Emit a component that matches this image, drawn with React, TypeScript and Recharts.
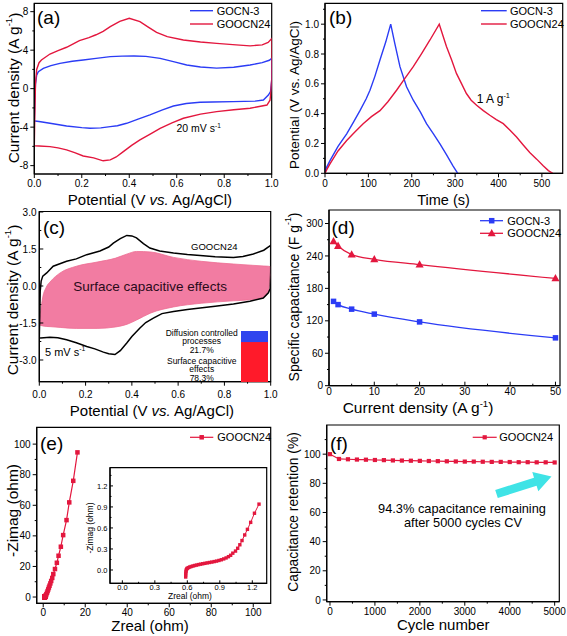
import React from 'react';
import { ComposedChart, Line, Area, XAxis, YAxis, ReferenceArea, BarChart, Bar } from 'recharts';

const W = 567;
const H = 636;
const FONT = '"Liberation Sans", Arial, Helvetica, sans-serif';
const BLUE = '#2b3cf5';
const RED = '#e3173e';
const PINK = '#f27ca2';
const CYAN = '#3fe3e6';

// ---------- (a) CV at 20 mV/s ----------
const aGocnV = [0.0, 0.002, 0.005, 0.01, 0.017, 0.038, 0.07, 0.108, 0.16, 0.206, 0.26, 0.32, 0.37, 0.42, 0.47, 0.53, 0.59, 0.642, 0.7, 0.768, 0.84, 0.909, 0.96, 0.99, 1.0, 1.0, 0.995, 0.986, 0.965, 0.93, 0.838, 0.75, 0.698, 0.64, 0.586, 0.54, 0.487, 0.44, 0.389, 0.35, 0.32, 0.28, 0.235, 0.2, 0.136, 0.066, 0.02, 0.003, 0.0];
const aGocnJ = [-3.35, -1.5, 0.5, 1.4, 1.77, 2.11, 2.4, 2.63, 2.85, 2.98, 3.15, 3.33, 3.38, 3.4, 3.35, 3.15, 2.78, 2.46, 2.25, 2.13, 2.22, 2.46, 2.7, 2.95, 3.15, 0.8, -0.3, -0.66, -1.18, -1.3, -1.35, -1.38, -1.42, -1.55, -1.8, -2.2, -2.73, -3.15, -3.6, -3.85, -3.95, -4.08, -4.12, -4.05, -3.88, -3.6, -3.42, -3.36, -3.35];
const aGoocnV = [0.0, 0.002, 0.005, 0.01, 0.02, 0.03, 0.066, 0.1, 0.136, 0.19, 0.23, 0.26, 0.29, 0.32, 0.36, 0.4, 0.445, 0.48, 0.515, 0.56, 0.628, 0.7, 0.768, 0.85, 0.909, 0.96, 0.985, 1.0, 1.0, 0.996, 0.993, 0.98, 0.909, 0.84, 0.768, 0.7, 0.628, 0.58, 0.53, 0.49, 0.445, 0.41, 0.375, 0.345, 0.32, 0.29, 0.25, 0.206, 0.17, 0.136, 0.1, 0.066, 0.02, 0.003, 0.0];
const aGoocnJ = [-5.95, -3.0, 0.5, 2.0, 2.7, 2.98, 3.6, 3.95, 4.3, 5.0, 5.3, 5.6, 5.95, 6.44, 7.0, 7.31, 6.96, 6.4, 5.85, 5.4, 5.06, 4.85, 4.71, 4.55, 4.45, 4.55, 4.8, 5.2, 1.0, -0.5, -1.2, -1.7, -2.04, -2.2, -2.39, -2.65, -3.08, -3.55, -4.12, -4.7, -5.33, -5.9, -6.54, -7.1, -7.4, -7.5, -7.2, -7.0, -6.65, -6.37, -6.15, -6.02, -5.96, -5.95, -5.95];

// ---------- (b) GCD at 1 A/g ----------
const bGocnT = [0, 2, 11.5, 30, 50, 65, 80.6, 95, 103.7, 115, 126.7, 140, 151.5, 161, 172.8, 188, 203.5, 220, 234, 250, 265, 280, 295, 306];
const bGocnU = [0, 0.03, 0.085, 0.18, 0.265, 0.34, 0.42, 0.5, 0.557, 0.65, 0.76, 0.88, 1.0, 0.87, 0.715, 0.58, 0.49, 0.41, 0.333, 0.265, 0.198, 0.125, 0.05, 0.0];
const bGoocnT = [0, 5, 11.5, 30, 50, 70, 88, 107, 126.7, 145, 165, 185, 203.5, 222, 242, 263.4, 280, 292, 303, 315, 326, 337, 349.5, 365, 380, 395, 411, 426, 441.6, 457, 472, 488, 503, 515, 525];
const bGoocnU = [0, 0.03, 0.063, 0.15, 0.22, 0.28, 0.333, 0.38, 0.42, 0.48, 0.557, 0.64, 0.715, 0.8, 0.894, 1.0, 0.85, 0.76, 0.67, 0.6, 0.535, 0.49, 0.456, 0.42, 0.389, 0.36, 0.333, 0.29, 0.243, 0.19, 0.14, 0.095, 0.05, 0.018, 0.0];

// ---------- (c) CV at 5 mV/s with capacitive contribution ----------
const cV = [0.0, 0.002, 0.004, 0.008, 0.015, 0.032, 0.06, 0.118, 0.16, 0.205, 0.262, 0.3, 0.32, 0.35, 0.378, 0.4, 0.42, 0.45, 0.478, 0.52, 0.58, 0.64, 0.695, 0.76, 0.839, 0.88, 0.925, 0.97, 1.0, 1.0, 0.998, 0.99, 0.968, 0.91, 0.839, 0.76, 0.695, 0.64, 0.58, 0.53, 0.493, 0.46, 0.435, 0.4, 0.378, 0.35, 0.327, 0.3, 0.277, 0.24, 0.205, 0.16, 0.118, 0.08, 0.046, 0.006, 0.0];
const cJ = [-2.1, -1.2, -0.2, 0.2, 0.4, 0.53, 0.8, 1.0, 1.1, 1.27, 1.42, 1.58, 1.74, 1.92, 2.05, 2.03, 1.95, 1.72, 1.54, 1.42, 1.34, 1.28, 1.24, 1.19, 1.16, 1.2, 1.3, 1.45, 1.65, 0.6, -0.1, -0.28, -0.49, -0.62, -0.73, -0.82, -0.89, -0.95, -1.03, -1.12, -1.3, -1.48, -1.7, -2.05, -2.31, -2.62, -2.78, -2.75, -2.68, -2.55, -2.45, -2.3, -2.18, -2.1, -2.08, -2.11, -2.1];
const cPinkV = [0.0, 0.006, 0.015, 0.03, 0.05, 0.09, 0.16, 0.25, 0.33, 0.38, 0.42, 0.48, 0.58, 0.7, 0.84, 0.92, 0.97, 0.99, 1.0];
const cPinkLow = [-1.57, -1.6, -1.62, -1.64, -1.65, -1.68, -1.72, -1.72, -1.66, -1.55, -1.38, -1.1, -0.85, -0.7, -0.6, -0.55, -0.45, -0.2, 0.5];
const cPinkHigh = [-1.45, -1.0, -0.45, -0.05, 0.2, 0.53, 0.8, 0.97, 1.13, 1.3, 1.4, 1.38, 1.16, 1.0, 0.89, 0.84, 0.81, 0.8, 0.78];
const cShareNames = ['Surface capacitive effects', 'Diffusion controlled processes'];
const cShares = [78.3, 21.7];

// ---------- (d) rate capability ----------
const dCurrent = [1, 2, 5, 10, 20, 50];
const dGocn = [156, 150, 141.6, 132.4, 118, 88.5];
const dGoocn = [267, 258.5, 242.5, 233.8, 224, 198.5];

// ---------- (e) Nyquist ----------
const eZreal = [0.585, 0.585, 0.586, 0.588, 0.59, 0.594, 0.6, 0.61, 0.622, 0.636, 0.652, 0.668, 0.685, 0.703, 0.722, 0.742, 0.762, 0.783, 0.804, 0.826, 0.848, 0.87, 0.892, 0.914, 0.936, 0.958, 0.98, 1.0, 1.02, 1.045, 1.065, 1.085, 1.105, 1.13, 1.155, 1.185, 1.22, 1.262, 1.5, 1.8, 2.1, 2.4, 2.7, 3.0, 3.4, 3.8, 4.3, 4.8, 5.6, 6.5, 7.3, 8.4, 9.5, 11.1, 12.4, 14.3, 16.3];
const eZimag = [-0.1, -0.07, -0.045, -0.02, 0.0, 0.014, 0.025, 0.034, 0.042, 0.05, 0.057, 0.064, 0.07, 0.077, 0.083, 0.089, 0.095, 0.101, 0.107, 0.113, 0.12, 0.127, 0.136, 0.146, 0.158, 0.172, 0.19, 0.21, 0.24, 0.27, 0.31, 0.36, 0.42, 0.5, 0.58, 0.68, 0.81, 0.94, 1.8, 2.8, 3.9, 5.0, 6.2, 7.4, 8.9, 10.5, 12.5, 15.0, 18.3, 22.4, 27, 32.9, 40.5, 50.3, 61.9, 76, 94.6];
const eInsetMaxZreal = 1.3;

// ---------- (f) cycling ----------
const fCycles = [0, 200, 400, 600, 800, 1000, 1200, 1400, 1600, 1800, 2000, 2200, 2400, 2600, 2800, 3000, 3200, 3400, 3600, 3800, 4000, 4200, 4400, 4600, 4800, 5000];
const fRetention = [100, 96.7, 96.5, 96.3, 96.2, 96.0, 95.9, 95.7, 95.6, 95.5, 95.4, 95.3, 95.2, 95.1, 95.0, 94.9, 94.9, 94.8, 94.7, 94.7, 94.6, 94.5, 94.5, 94.4, 94.4, 94.3];

const zip = (xs: number[], ys: number[]) => xs.map((x, i) => ({ x, y: ys[i] }));

type Box = { x1: number; x2: number; y1: number; y2: number };
const YW = 30;
const XH = 20;
const marginOf = (b: Box) => ({ left: b.x1 - YW, right: W - b.x2, top: b.y1, bottom: H - b.y2 - XH });

type TickOpt = { fs: number; big: number; small: number; inward: boolean; gap: number };

function tickRenderer(axis: 'x' | 'y', majors: number[], fmt: (v: number) => string, o: TickOpt) {
  return (props: any) => {
    const { x, y, payload, index } = props;
    const v = payload.value;
    const major = majors.some((m) => Math.abs(m - v) < 1e-6);
    const len = major ? o.big : o.small;
    const dir = o.inward ? -1 : 1;
    if (axis === 'x') {
      return (
        <g key={`tx${index}`}>
          <line x1={x} y1={y} x2={x} y2={y + dir * len} stroke="#000" strokeWidth={1} />
          {major ? (
            <text x={x} y={y + o.gap} textAnchor="middle" fontSize={o.fs} fontFamily={FONT} fill="#000">
              {fmt(v)}
            </text>
          ) : null}
        </g>
      );
    }
    return (
      <g key={`ty${index}`}>
        <line x1={x} y1={y} x2={x - dir * len} y2={y} stroke="#000" strokeWidth={1} />
        {major ? (
          <text x={x - o.gap} y={y + o.fs * 0.36} textAnchor="end" fontSize={o.fs} fontFamily={FONT} fill="#000">
            {fmt(v)}
          </text>
        ) : null}
      </g>
    );
  };
}

function Panel(props: any) {
  const { box, xDomain, yDomain, xMajor, xMinor, yMajor, yMinor, fmtX, fmtY, children } = props;
  const fs = props.fs ?? 10;
  const big = props.big ?? 4;
  const small = props.small ?? 2;
  const xo: TickOpt = { fs, big, small, inward: !!props.xIn, gap: props.xGap ?? 12.9 };
  const yo: TickOpt = { fs, big, small, inward: !!props.yIn, gap: props.yGap ?? 6 };
  const xt = [...xMajor, ...xMinor].sort((a: number, b: number) => a - b);
  const yt = [...yMajor, ...yMinor].sort((a: number, b: number) => a - b);
  return (
    <div style={{ position: 'absolute', left: 0, top: 0 }}>
      <ComposedChart width={W} height={H} margin={marginOf(box)}>
        <XAxis
          type="number"
          dataKey="x"
          domain={xDomain}
          allowDataOverflow
          ticks={xt}
          interval={0}
          tickSize={0}
          tickMargin={0}
          tickLine={false}
          height={XH}
          axisLine={{ stroke: '#000', strokeWidth: 1.2 }}
          tick={tickRenderer('x', xMajor, fmtX, xo)}
        />
        <YAxis
          type="number"
          domain={yDomain}
          allowDataOverflow
          ticks={yt}
          interval={0}
          tickSize={0}
          tickMargin={0}
          tickLine={false}
          width={YW}
          axisLine={{ stroke: '#000', strokeWidth: 1.2 }}
          tick={tickRenderer('y', yMajor, fmtY, yo)}
        />
        <ReferenceArea
          x1={xDomain[0]}
          x2={xDomain[1]}
          y1={yDomain[0]}
          y2={yDomain[1]}
          fill="none"
          fillOpacity={0}
          stroke="#000"
          strokeWidth={1.2}
          ifOverflow="visible"
        />
        {children}
      </ComposedChart>
    </div>
  );
}

const squareDot = (size: number, color: string) => (p: any) => (
  <rect key={`s${p.index}`} x={p.cx - size / 2} y={p.cy - size / 2} width={size} height={size} fill={color} stroke="none" />
);
const triDot = (size: number, color: string) => (p: any) => (
  <path
    key={`t${p.index}`}
    d={`M${p.cx},${p.cy - size * 0.62} L${p.cx + size * 0.58},${p.cy + size * 0.42} L${p.cx - size * 0.58},${p.cy + size * 0.42} Z`}
    fill={color}
  />
);

const fmt1 = (v: number) => v.toFixed(1);
const fmt0 = (v: number) => String(v);

function Sup({ fs, children }: any) {
  return (
    <tspan dy={-fs * 0.38} fontSize={fs * 0.62}>
      {children}
    </tspan>
  );
}

function YTitle({ x, y, fs, children }: any) {
  return (
    <text
      transform={`translate(${x},${y}) rotate(-90)`}
      textAnchor="middle"
      dominantBaseline="central"
      fontSize={fs}
      fontFamily={FONT}
      fill="#000"
    >
      {children}
    </text>
  );
}

function Txt({ x, y, fs, anchor, children, fill }: any) {
  return (
    <text x={x} y={y} fontSize={fs} fontFamily={FONT} fill={fill ?? '#000'} textAnchor={anchor ?? 'start'}>
      {children}
    </text>
  );
}

function arrowPoints(tx: number, ty: number, hx: number, hy: number, shaft: number, headW: number, headL: number) {
  const dx = hx - tx;
  const dy = hy - ty;
  const L = Math.hypot(dx, dy);
  const ux = dx / L;
  const uy = dy / L;
  const nx = -uy;
  const ny = ux;
  const bx = hx - ux * headL;
  const by = hy - uy * headL;
  const pts = [
    [tx + nx * shaft, ty + ny * shaft],
    [bx + nx * shaft, by + ny * shaft],
    [bx + nx * headW, by + ny * headW],
    [hx, hy],
    [bx - nx * headW, by - ny * headW],
    [bx - nx * shaft, by - ny * shaft],
    [tx - nx * shaft, ty - ny * shaft],
  ];
  return pts.map((p) => `${p[0].toFixed(1)},${p[1].toFixed(1)}`).join(' ');
}

export default function App() {
  const aGocn = zip(aGocnV, aGocnJ);
  const aGoocn = zip(aGoocnV, aGoocnJ);
  const bGocn = zip(bGocnT, bGocnU);
  const bGoocn = zip(bGoocnT, bGoocnU);
  const cCurve = zip(cV, cJ);
  const cPink = cPinkV.map((x, i) => ({ x, r: [cPinkLow[i], cPinkHigh[i]] }));
  const cBar = [{ name: 'share', [cShareNames[0]]: cShares[0], [cShareNames[1]]: cShares[1] }];
  const dA = zip(dCurrent, dGocn);
  const dB = zip(dCurrent, dGoocn);
  const eAll = zip(eZreal, eZimag);
  const eInset = eAll.filter((p) => p.x <= eInsetMaxZreal);
  const fData = zip(fCycles, fRetention);

  return (
    <div style={{ position: 'absolute', left: 0, top: 0, width: W, height: H, background: '#fff', overflow: 'hidden' }}>
      {/* (a) */}
      <Panel
        box={{ x1: 34.3, x2: 271.7, y1: 3.3, y2: 174 }}
        xDomain={[0, 1]}
        yDomain={[-8.87, 8.87]}
        xMajor={[0, 0.2, 0.4, 0.6, 0.8, 1.0]}
        xMinor={[0.1, 0.3, 0.5, 0.7, 0.9]}
        yMajor={[-8, -4, 0, 4, 8]}
        yMinor={[-6, -2, 2, 6]}
        fmtX={fmt1}
        fmtY={fmt0}
      >
        <Line data={aGocn} dataKey="y" type="linear" stroke={BLUE} strokeWidth={1.4} dot={false} isAnimationActive={false} name="GOCN-3" />
        <Line data={aGoocn} dataKey="y" type="linear" stroke={RED} strokeWidth={1.4} dot={false} isAnimationActive={false} name="GOOCN24" />
      </Panel>

      {/* (b) */}
      <Panel
        box={{ x1: 325, x2: 562.7, y1: 3.3, y2: 173.3 }}
        xDomain={[0, 548]}
        yDomain={[0, 1.14]}
        xMajor={[0, 100, 200, 300, 400, 500]}
        xMinor={[50, 150, 250, 350, 450]}
        yMajor={[0, 0.2, 0.4, 0.6, 0.8, 1.0]}
        yMinor={[0.1, 0.3, 0.5, 0.7, 0.9, 1.1]}
        fmtX={fmt0}
        fmtY={fmt1}
        xGap={13.6}
      >
        <Line data={bGocn} dataKey="y" type="linear" stroke={BLUE} strokeWidth={1.4} dot={false} isAnimationActive={false} name="GOCN-3" />
        <Line data={bGoocn} dataKey="y" type="linear" stroke={RED} strokeWidth={1.4} dot={false} isAnimationActive={false} name="GOOCN24" />
      </Panel>

      {/* (c) */}
      <Panel
        box={{ x1: 39.3, x2: 270.7, y1: 211.5, y2: 381.7 }}
        xDomain={[0, 1]}
        yDomain={[-3.88, 3.02]}
        xMajor={[0, 0.2, 0.4, 0.6, 0.8, 1.0]}
        xMinor={[0.1, 0.3, 0.5, 0.7, 0.9]}
        yMajor={[-3, -1.5, 0, 1.5, 3]}
        yMinor={[-2.25, -0.75, 0.75, 2.25]}
        fmtX={fmt1}
        fmtY={fmt1}
        yIn
        yGap={2.8}
        xGap={15.8}
      >
        <Area data={cPink} dataKey="r" type="monotone" stroke="#ee6d93" strokeWidth={0.8} fill={PINK} fillOpacity={1} isAnimationActive={false} />
        <Line data={cCurve} dataKey="y" type="linear" stroke="#000" strokeWidth={1.5} dot={false} isAnimationActive={false} name="GOOCN24" />
      </Panel>
      <div style={{ position: 'absolute', left: 240.5, top: 330.7 }}>
        <BarChart width={27} height={51} data={cBar} margin={{ top: 0, right: 0, bottom: 0, left: 0 }} barCategoryGap={0}>
          <XAxis dataKey="name" hide />
          <YAxis hide domain={[0, 100]} allowDataOverflow />
          <Bar dataKey={cShareNames[0]} stackId="s" fill="#ff1a2a" isAnimationActive={false} />
          <Bar dataKey={cShareNames[1]} stackId="s" fill="#2f45ee" isAnimationActive={false} />
        </BarChart>
      </div>

      {/* (d) */}
      <Panel
        box={{ x1: 329, x2: 560, y1: 210, y2: 385.7 }}
        xDomain={[0, 51]}
        yDomain={[0, 325]}
        xMajor={[0, 10, 20, 30, 40, 50]}
        xMinor={[5, 15, 25, 35, 45]}
        yMajor={[0, 60, 120, 180, 240, 300]}
        yMinor={[30, 90, 150, 210, 270]}
        fmtX={fmt0}
        fmtY={fmt0}
        xIn
        xGap={9}
      >
        <Line data={dA} dataKey="y" type="monotone" stroke={BLUE} strokeWidth={1.3} dot={squareDot(5.5, BLUE)} isAnimationActive={false} name="GOCN-3" />
        <Line data={dB} dataKey="y" type="monotone" stroke={RED} strokeWidth={1.3} dot={triDot(7, RED)} isAnimationActive={false} name="GOOCN24" />
      </Panel>

      {/* (e) */}
      <Panel
        box={{ x1: 36.7, x2: 270.7, y1: 427.3, y2: 603.3 }}
        xDomain={[-3.1, 108.3]}
        yDomain={[-4.1, 111]}
        xMajor={[0, 20, 40, 60, 80, 100]}
        xMinor={[10, 30, 50, 70, 90]}
        yMajor={[0, 20, 40, 60, 80, 100]}
        yMinor={[10, 30, 50, 70, 90]}
        fmtX={fmt0}
        fmtY={fmt0}
      >
        <Line data={eAll} dataKey="y" type="linear" stroke={RED} strokeWidth={1.2} dot={squareDot(4.5, RED)} isAnimationActive={false} name="GOOCN24" />
      </Panel>
      <Panel
        box={{ x1: 110, x2: 266.7, y1: 467.7, y2: 583.3 }}
        xDomain={[-0.114, 1.333]}
        yDomain={[-0.19, 1.46]}
        xMajor={[0, 0.3, 0.6, 0.9, 1.2]}
        xMinor={[0.15, 0.45, 0.75, 1.05]}
        yMajor={[0, 0.3, 0.6, 0.9, 1.2]}
        yMinor={[0.15, 0.45, 0.75, 1.05, 1.35]}
        fmtX={fmt1}
        fmtY={fmt1}
        fs={7.5}
        big={3}
        small={1.5}
        xIn
        yIn
        xGap={6.6}
        yGap={2.5}
      >
        <Line data={eInset} dataKey="y" type="linear" stroke={RED} strokeWidth={1} dot={squareDot(3.4, RED)} isAnimationActive={false} name="GOOCN24 inset" />
      </Panel>

      {/* (f) */}
      <Panel
        box={{ x1: 326.7, x2: 559.3, y1: 425, y2: 601.7 }}
        xDomain={[-73, 5103]}
        yDomain={[-1.2, 120]}
        xMajor={[0, 1000, 2000, 3000, 4000, 5000]}
        xMinor={[500, 1500, 2500, 3500, 4500]}
        yMajor={[0, 20, 40, 60, 80, 100]}
        yMinor={[10, 30, 50, 70, 90, 110]}
        fmtX={fmt0}
        fmtY={fmt0}
      >
        <Line data={fData} dataKey="y" type="linear" stroke={RED} strokeWidth={1.2} dot={squareDot(4.2, RED)} isAnimationActive={false} name="GOOCN24" />
      </Panel>

      {/* annotations, titles and legends */}
      <svg width={W} height={H} style={{ position: 'absolute', left: 0, top: 0, pointerEvents: 'none' }}>
        {/* panel letters */}
        <Txt x={37} y={24} fs={19}>(a)</Txt>
        <Txt x={329} y={24} fs={19}>(b)</Txt>
        <Txt x={43} y={234} fs={19}>(c)</Txt>
        <Txt x={331.5} y={233.5} fs={19}>(d)</Txt>
        <Txt x={40} y={449.5} fs={19}>(e)</Txt>
        <Txt x={330} y={449.5} fs={19}>(f)</Txt>

        {/* (a) */}
        <Txt x={150} y={205} fs={15} anchor="middle">
          Potential (V <tspan fontStyle="italic">vs.</tspan> Ag/AgCl)
        </Txt>
        <YTitle x={13.5} y={88} fs={15.5}>
          Current density (A g<Sup fs={15.5}>-1</Sup>
          <tspan dy={15.5 * 0.38}>)</tspan>
        </YTitle>
        <Txt x={176.5} y={132} fs={10.5}>
          20 mV s<Sup fs={10.5}>-1</Sup>
        </Txt>
        <line x1={190} y1={10.7} x2={213} y2={10.7} stroke={BLUE} strokeWidth={1.4} />
        <line x1={190} y1={24} x2={213} y2={24} stroke={RED} strokeWidth={1.4} />
        <Txt x={216.7} y={14.6} fs={11}>GOCN-3</Txt>
        <Txt x={216.7} y={27.9} fs={11}>GOOCN24</Txt>

        {/* (b) */}
        <Txt x={443.5} y={205} fs={14.5} anchor="middle">Time (s)</Txt>
        <YTitle x={294} y={95} fs={13.5}>Potential (V vs. Ag/AgCl)</YTitle>
        <Txt x={476.7} y={102.5} fs={12}>
          1 A g<Sup fs={12}>-1</Sup>
        </Txt>
        <line x1={481} y1={10.7} x2={506.7} y2={10.7} stroke={BLUE} strokeWidth={1.4} />
        <line x1={481} y1={24} x2={506.7} y2={24} stroke={RED} strokeWidth={1.4} />
        <Txt x={510} y={14.6} fs={11}>GOCN-3</Txt>
        <Txt x={510} y={27.9} fs={11}>GOOCN24</Txt>

        {/* (c) */}
        <Txt x={152} y={415.5} fs={15} anchor="middle">
          Potential (V <tspan fontStyle="italic">vs.</tspan> Ag/AgCl)
        </Txt>
        <YTitle x={12.5} y={300} fs={15.5}>
          Current density (A g<Sup fs={15.5}>-1</Sup>
          <tspan dy={15.5 * 0.38}>)</tspan>
        </YTitle>
        <Txt x={191} y={250} fs={9.5}>GOOCN24</Txt>
        <Txt x={73.3} y={291} fs={13.5} fill="#2a0b1a">Surface capacitive effects</Txt>
        <Txt x={45} y={355.5} fs={11}>
          5 mV s<Sup fs={11}>-1</Sup>
        </Txt>
        <Txt x={201.7} y={335.7} fs={8.5} anchor="middle">Diffusion controlled</Txt>
        <Txt x={201.7} y={344.2} fs={8.5} anchor="middle">processes</Txt>
        <Txt x={201.7} y={353} fs={8.5} anchor="middle">21.7%</Txt>
        <Txt x={201.7} y={363.7} fs={8.5} anchor="middle">Surface capacitive</Txt>
        <Txt x={201.7} y={372.2} fs={8.5} anchor="middle">effects</Txt>
        <Txt x={201.7} y={380.8} fs={8.5} anchor="middle">78.3%</Txt>

        {/* (d) */}
        <Txt x={418} y={413} fs={15.5} anchor="middle">
          Current density (A g<Sup fs={15.5}>-1</Sup>
          <tspan dy={15.5 * 0.38}>)</tspan>
        </Txt>
        <YTitle x={293.5} y={297} fs={14}>
          Specific capacitance (F g<Sup fs={14}>-1</Sup>
          <tspan dy={14 * 0.38}>)</tspan>
        </YTitle>
        <line x1={480} y1={220.7} x2={503} y2={220.7} stroke={BLUE} strokeWidth={1.3} />
        <rect x={491.7 - 2.75} y={220.7 - 2.75} width={5.5} height={5.5} fill={BLUE} />
        <line x1={480} y1={233.3} x2={503} y2={233.3} stroke={RED} strokeWidth={1.3} />
        <path d={`M491.7,${233.3 - 4.3} L${491.7 + 4},${233.3 + 2.9} L${491.7 - 4},${233.3 + 2.9} Z`} fill={RED} />
        <Txt x={507.3} y={224.6} fs={11}>GOCN-3</Txt>
        <Txt x={507.3} y={237.2} fs={11}>GOOCN24</Txt>

        {/* (e) */}
        <Txt x={150} y={631} fs={15} anchor="middle">Zreal (ohm)</Txt>
        <YTitle x={12} y={510.5} fs={15.5}>-Zimag (ohm)</YTitle>
        <Txt x={190} y={598.5} fs={8.5} anchor="middle">Zreal (ohm)</Txt>
        <YTitle x={90} y={528} fs={8.5}>-Zimag (ohm)</YTitle>
        <line x1={190} y1={437.3} x2={213.3} y2={437.3} stroke={RED} strokeWidth={1.2} />
        <rect x={201.7 - 2.25} y={437.3 - 2.25} width={4.5} height={4.5} fill={RED} />
        <Txt x={217.3} y={441.2} fs={11}>GOOCN24</Txt>

        {/* (f) */}
        <Txt x={443.3} y={630} fs={15} anchor="middle">Cycle number</Txt>
        <YTitle x={293.5} y={512} fs={13.8}>Capacitance retention (%)</YTitle>
        <line x1={472.7} y1={437.3} x2={496.7} y2={437.3} stroke={RED} strokeWidth={1.2} />
        <rect x={484.7 - 2.1} y={437.3 - 2.1} width={4.2} height={4.2} fill={RED} />
        <Txt x={499.3} y={441.2} fs={11}>GOOCN24</Txt>
        <polygon points={arrowPoints(496.5, 494, 551.5, 476.5, 4.2, 10, 17)} fill={CYAN} />
        <Txt x={462} y={512.5} fs={12.8} anchor="middle">94.3% capacitance remaining</Txt>
        <Txt x={463} y={527} fs={12.8} anchor="middle">after 5000 cycles CV</Txt>
      </svg>
    </div>
  );
}
